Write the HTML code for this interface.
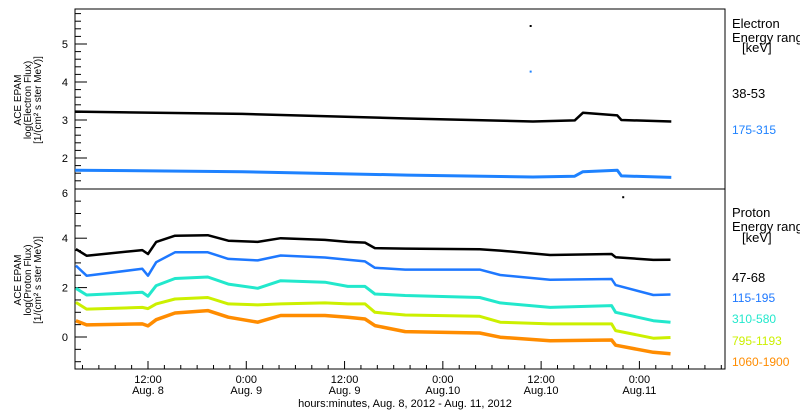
<!DOCTYPE html>
<html><head><meta charset="utf-8"><style>
html,body{margin:0;padding:0;background:#fff;}
svg{display:block;font-family:"Liberation Sans",sans-serif;}
</style></head><body>
<svg id="chart" width="800" height="410" xmlns="http://www.w3.org/2000/svg"></svg>
<script>
// ---- data ----
const elecHours = [3.1, 23.5, 43.7, 59, 64.1, 65.1, 69.3, 69.8, 75.9];
const elec38_53 = [3.22, 3.16, 3.04, 2.96, 2.99, 3.19, 3.12, 3.0, 2.96];
const elec175_315 = [1.68, 1.64, 1.55, 1.5, 1.52, 1.64, 1.68, 1.53, 1.49];
const protHours = [3.2, 4.5, 11.3, 12, 13, 15.3, 19.3, 21.8, 25.4, 28.2, 33.6, 36.4, 38.5, 39.7, 43.4, 52.5, 55, 61.1, 68.6, 69.1, 73.7, 75.8];
const prot47_68 = [3.56,3.29,3.52,3.36,3.85,4.1,4.12,3.9,3.85,4.0,3.93,3.85,3.82,3.6,3.58,3.55,3.5,3.32,3.36,3.23,3.12,3.13];
const prot115_195 = [2.89,2.48,2.76,2.48,3.03,3.43,3.43,3.16,3.1,3.3,3.22,3.13,3.06,2.8,2.73,2.73,2.51,2.32,2.35,2.1,1.7,1.72];
const prot310_580 = [1.97,1.7,1.81,1.65,2.08,2.37,2.43,2.14,1.97,2.28,2.22,2.05,2.05,1.74,1.68,1.6,1.38,1.2,1.27,1.0,0.66,0.6];
const prot795_1193 = [1.4,1.13,1.2,1.15,1.34,1.54,1.6,1.34,1.3,1.34,1.38,1.34,1.34,1.0,0.89,0.84,0.6,0.53,0.53,0.26,-0.05,-0.02];
const prot1060_1900 = [0.66,0.49,0.53,0.45,0.7,0.97,1.07,0.8,0.6,0.87,0.87,0.8,0.73,0.46,0.22,0.16,-0.01,-0.15,-0.12,-0.33,-0.62,-0.68];
const topTicks = [2,3,4,5];
const botTicks = [0,2,4,6];
const xTickHours = [12,24,36,48,60,72];
const xTickTimes = ["12:00","0:00","12:00","0:00","12:00","0:00"];
const xTickDays = ["Aug. 8","Aug. 9","Aug. 9","Aug.10","Aug.10","Aug.11"];

const NS="http://www.w3.org/2000/svg";
const svg=document.getElementById('chart');
const L=75,R=725,T1=9,B1=189,T2=189,B2=369;
function xS(h){return 148+(h-12)*8.19;}
function yTop(v){return 120-(v-3)*38;}
function yBot(v){return 337-v*24.7;}
function mk(tag,attrs){const e=document.createElementNS(NS,tag);for(const k in attrs)e.setAttribute(k,attrs[k]);svg.appendChild(e);return e;}
function txt(x,y,s,attrs){const e=mk('text',Object.assign({x:x,y:y,'font-size':11},attrs||{}));e.textContent=s;return e;}

let f=mk('rect',{x:L,y:T1,width:R-L,height:B1-T1,fill:'none',stroke:'#000','stroke-width':1});


f=mk('rect',{x:L,y:T2,width:R-L,height:B2-T2,fill:'none',stroke:'#000','stroke-width':1});



for(let v=1.4;v<=5.9;v+=0.2){const y=yTop(v);if(y<T1||y>B1)continue;const major=Math.abs(v-Math.round(v))<0.01;
 const t=mk('line',{x1:L,x2:L+(major?12:6),y1:y,y2:y,stroke:'#000'});
 
 }
topTicks.forEach(v=>{const t=txt(68,yTop(v)+4,String(v),{'text-anchor':'end'});
 
 });
for(let v=-1;v<=6;v+=0.5){const y=yBot(v);if(y<T2||y>B2)continue;const major=Math.abs(v%2)<0.01;
 const t=mk('line',{x1:L,x2:L+(major?12:6),y1:y,y2:y,stroke:'#000'});
 
 }
botTicks.forEach(v=>{const t=txt(68,yBot(v)+4+(v===6?4:0),String(v),{'text-anchor':'end'});
 
 });
for(let h=4;h<=82;h+=2){const x=xS(h);if(x<L||x>R)continue;const major=h%12===0;
 const t=mk('line',{x1:x,x2:x,y1:B2,y2:B2-(major?8:4),stroke:'#000'});
 
 }
xTickHours.forEach((h,i)=>{
 const a=txt(xS(h),383,xTickTimes[i],{'text-anchor':'middle'});
 
 
 const b=txt(xS(h),394,xTickDays[i],{'text-anchor':'middle'});
 
 });
let xt=txt(405,407,'hours:minutes, Aug.  8, 2012 - Aug. 11, 2012',{'text-anchor':'middle'});



function ytitle(cy,lines,name){const g=mk('g',{transform:'translate(0,'+cy+') rotate(-90)'});
 
 
 lines.forEach((s,i)=>{const e=document.createElementNS(NS,'text');e.setAttribute('x',0);e.setAttribute('y',21+i*10);e.setAttribute('font-size',10);e.setAttribute('text-anchor','middle');e.textContent=s;g.appendChild(e);});}
ytitle(100,['ACE EPAM','log(Electron Flux)','[1/(cm² s ster MeV)]'],'electron-y-axis-title');
ytitle(280,['ACE EPAM','log(Proton Flux)','[1/(cm² s ster MeV)]'],'proton-y-axis-title');

function series(hours,vals,yf,color,w,name){
 const pts=hours.map((h,i)=>xS(h).toFixed(1)+','+yf(vals[i]).toFixed(1)).join(' ');
 const p=mk('polyline',{points:pts,fill:'none',stroke:color,'stroke-width':w,'stroke-linejoin':'round'});
 
 }
series(elecHours,elec38_53,yTop,'#000',2.5,'electron-38-53-series');
series(elecHours,elec175_315,yTop,'#1e82ff',3,'electron-175-315-series');
series(protHours,prot47_68,yBot,'#000',2.5,'proton-47-68-series');
series(protHours,prot115_195,yBot,'#1e78ff',2.5,'proton-115-195-series');
series(protHours,prot310_580,yBot,'#22e8cc',3,'proton-310-580-series');
series(protHours,prot795_1193,yBot,'#ccf000',3,'proton-795-1193-series');
series(protHours,prot1060_1900,yBot,'#ff8c00',3.5,'proton-1060-1900-series');
[[58.6,5.5,yTop,'#000'],[58.6,4.3,yTop,'#1e82ff'],[69.9,5.7,yBot,'#000']].forEach(o=>{
 const r=mk('rect',{x:xS(o[0]),y:o[2](o[1]),width:2,height:2,fill:o[3]});
 
 });

function leg(x,y,s,c,fs,name){const e=txt(x,y,s,{fill:c,'font-size':fs});
 
 }
leg(732,28,'Electron','#000',13,'electron-legend-title');
leg(732,42,'Energy range','#000',13,'electron-legend-subtitle');
leg(742,52,'[keV]','#000',13,'electron-legend-unit');
leg(732,98,'38-53','#000',13,'legend-electron-38-53');
leg(732,134,'175-315','#1e82ff',12,'legend-electron-175-315');
leg(732,217,'Proton','#000',13,'proton-legend-title');
leg(732,231,'Energy range','#000',13,'proton-legend-subtitle');
leg(742,242,'[keV]','#000',13,'proton-legend-unit');
leg(732,282,'47-68','#000',13,'legend-proton-47-68');
leg(732,302,'115-195','#1e78ff',12,'legend-proton-115-195');
leg(732,323,'310-580','#22e8cc',12,'legend-proton-310-580');
leg(732,345,'795-1193','#ccf000',12,'legend-proton-795-1193');
leg(732,366,'1060-1900','#ff8c00',12,'legend-proton-1060-1900');
</script>
</body></html>
